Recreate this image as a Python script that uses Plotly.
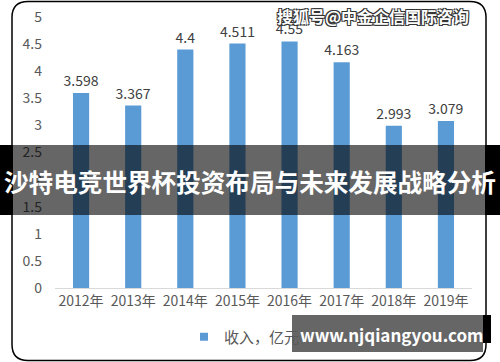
import plotly.graph_objects as go

years = ["2012年", "2013年", "2014年", "2015年", "2016年", "2017年", "2018年", "2019年"]
revenue = [3.598, 3.367, 4.4, 4.511, 4.55, 4.163, 2.993, 3.079]
revenue_labels = ["3.598", "3.367", "4.4", "4.511", "4.55", "4.163", "2.993", "3.079"]
y_ticks = [0, 0.5, 1, 1.5, 2, 2.5, 3, 3.5, 4, 4.5, 5]
y_tick_text = ["0", "0.5", "1", "1.5", "2", "2.5", "3", "3.5", "4", "4.5", "5"]
series_name = "收入，亿元"
banner_text = "沙特电竞世界杯投资布局与未来发展战略分析"
watermark_text = "搜狐号@中金企信国际咨询"
site_text = "www.njqiangyou.com"

W, H = 500, 362
PL, PR, PT, PB = 55, 472, 17, 288
FONT = "Noto Sans CJK SC"


def fx(px):
    return (px - PL) / (PR - PL)


def fy(py):
    return (PB - py) / (PB - PT)


fig = go.Figure()
fig.add_trace(go.Bar(
    x=years, y=revenue, text=revenue_labels, textposition="outside",
    constraintext="none",
    textfont=dict(size=14, color="#404040", family=FONT),
    marker=dict(color="#5B9BD5", line=dict(width=0)),
    showlegend=False, cliponaxis=False, name=series_name,
))
fig.add_trace(go.Scatter(
    x=[None], y=[None], mode="markers", name=series_name,
    marker=dict(symbol="square", size=8, color="#5B9BD5"),
))


def rounded_path(x0, y0, x1, y1, r):
    X0, X1 = fx(x0), fx(x1)
    Y0, Y1 = fy(y0), fy(y1)
    rx = r / (PR - PL)
    ry = r / (PB - PT)
    return (f"M{X0+rx},{Y0} L{X1-rx},{Y0} Q{X1},{Y0} {X1},{Y0-ry} "
            f"L{X1},{Y1+ry} Q{X1},{Y1} {X1-rx},{Y1} L{X0+rx},{Y1} "
            f"Q{X0},{Y1} {X0},{Y1+ry} L{X0},{Y0-ry} Q{X0},{Y0} {X0+rx},{Y0} Z")


shapes = [
    dict(type="path", xref="paper", yref="paper", path=rounded_path(12, 1.5, 486, 360.5, 16),
         line=dict(color="black", width=1.5), layer="above"),
    # banner
    dict(type="rect", xref="paper", yref="paper", x0=fx(0), x1=fx(13), y0=fy(145), y1=fy(215),
         fillcolor="black", line=dict(width=0), layer="above"),
    dict(type="rect", xref="paper", yref="paper", x0=fx(485), x1=fx(500), y0=fy(145), y1=fy(215),
         fillcolor="black", line=dict(width=0), layer="above"),
    dict(type="rect", xref="paper", yref="paper", x0=fx(13), x1=fx(485), y0=fy(145), y1=fy(215),
         fillcolor="rgba(0,0,0,0.6)", line=dict(width=0), layer="above"),
    # bottom site box
    dict(type="rect", xref="paper", yref="paper", x0=fx(292), x1=fx(491), y0=fy(315), y1=fy(343),
         fillcolor="black", line=dict(width=0), layer="above"),
    dict(type="rect", xref="paper", yref="paper", x0=fx(292), x1=fx(483), y0=fy(315), y1=fy(352),
         fillcolor="#666666", line=dict(width=0), layer="above"),
]

annotations = [
    dict(text=banner_text, xref="paper", yref="paper", x=fx(250), y=fy(181),
         xanchor="center", yanchor="middle", showarrow=False,
         font=dict(family=FONT, size=24.6, color="white", weight="bold")),
    dict(text=watermark_text, xref="paper", yref="paper", x=fx(373), y=fy(16),
         xanchor="center", yanchor="middle", showarrow=False,
         font=dict(family=FONT, size=16, color="white", weight="bold",
                   shadow="-1px -1px 0 #333, 1px -1px 0 #333, -1px 1px 0 #333, 1px 1px 0 #333")),
    dict(text=site_text, xref="paper", yref="paper", x=fx(391), y=fy(334),
         xanchor="center", yanchor="middle", showarrow=False,
         font=dict(family=FONT, size=17, color="white", weight="bold")),
]

fig.update_layout(
    width=W, height=H,
    margin=dict(l=PL, r=W - PR, t=PT, b=H - PB, pad=0, autoexpand=False),
    paper_bgcolor="white", plot_bgcolor="white",
    bargap=0.69,
    font=dict(family=FONT, size=14, color="#595959"),
    xaxis=dict(showline=True, linecolor="#D9D9D9", linewidth=1, showgrid=False,
               ticks="", tickfont=dict(size=14, color="#595959"), fixedrange=True),
    yaxis=dict(range=[0, 5], tickvals=y_ticks, ticktext=y_tick_text, showgrid=False,
               zeroline=False, showline=False, ticks="", ticklabelstandoff=12,
               tickfont=dict(size=14, color="#595959"), fixedrange=True),
    legend=dict(orientation="h", x=fx(184), y=fy(337), xanchor="left", yanchor="middle",
                font=dict(size=15, color="#595959"), bgcolor="rgba(0,0,0,0)"),
    shapes=shapes,
    annotations=annotations,
)

fig.write_html("out.html", post_script="document.body.style.margin='0';",
               config={"displayModeBar": False})
